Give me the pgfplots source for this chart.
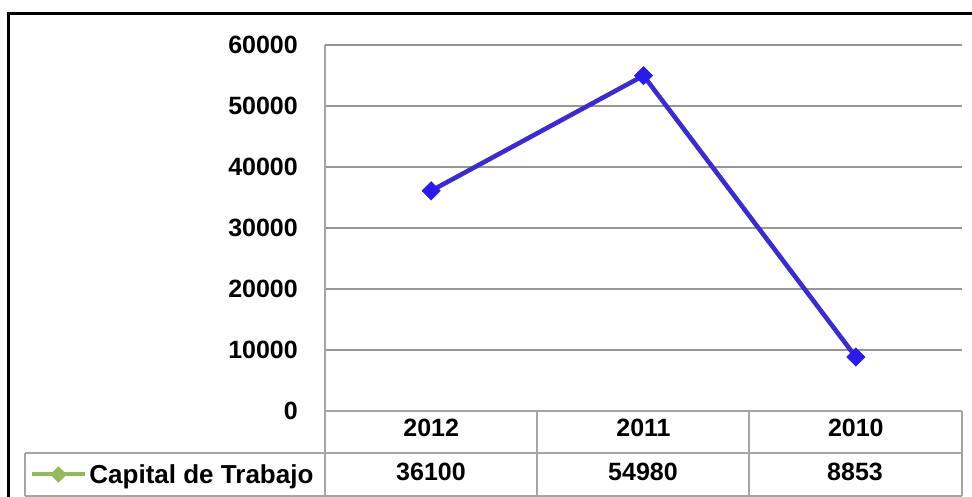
\documentclass[border=0pt]{standalone}
\usepackage{fontspec}
\setmainfont{Liberation Sans}
\usepackage{pgfplots}
\pgfplotsset{compat=1.18}
\definecolor{serblue}{RGB}{60,44,204}
\definecolor{mkblue}{RGB}{42,28,232}
\definecolor{keygreen}{RGB}{148,184,92}
\definecolor{gridgray}{RGB}{150,150,150}
\definecolor{tabgray}{RGB}{165,165,165}
\begin{document}
\begin{tikzpicture}
\useasboundingbox (0,0) rectangle (972bp,497bp);
\begin{axis}[
  at={(325bp,86bp)}, anchor=south west,
  scale only axis, width=637bp, height=366bp,
  xmin=-0.5, xmax=2.5, ymin=0, ymax=60000,
  xtick={0,1,2}, xticklabels={2012,2011,2010},
  ytick={0,10000,...,60000},
  axis x line=bottom, axis y line=left,
  axis line style={draw=tabgray, line width=1.3bp, -},
  ymajorgrids, grid style={draw=gridgray, line width=1.3bp},
  major tick length=0pt,
  scaled y ticks=false,
  /pgf/number format/assume math mode=true,
  yticklabel={\pgfmathprintnumber[fixed,1000 sep={}]{\tick}},
  tick label style={font=\fontsize{25bp}{30bp}\selectfont\bfseries, inner sep=0pt},
  yticklabel style={anchor=east, xshift=-27bp},
  xticklabel style={anchor=center, yshift=-17bp},
  clip=false,
  legend style={draw=none, fill=none, inner sep=0pt,
    at={(axis description cs:-0.4627,-0.1735)}, anchor=west,
    font=\fontsize{26bp}{30bp}\selectfont\bfseries,
    nodes={inner sep=2bp}},
  legend image code/.code={\draw[mark repeat=2,mark phase=2,#1] plot coordinates {(0bp,0bp) (26bp,0bp) (53bp,0bp)};},
]
\addlegendimage{color=keygreen, line width=4bp, mark=square*, mark size=5.5bp, mark options={rotate=45, fill=keygreen, draw=keygreen, line width=0.5bp}}
\addlegendentry{Capital de Trabajo}
\addplot[forget plot, color=serblue, line width=4.6bp, mark=square*, mark size=6.5bp,
  mark options={rotate=45, fill=mkblue, draw=mkblue, line width=0.5bp}]
  coordinates {(0,36100) (1,54980) (2,8853)};
\end{axis}
% table grid
\draw[tabgray, line width=1.3bp] (325bp,86bp) -- (962bp,86bp);
\draw[tabgray, line width=1.3bp] (25bp,44bp) -- (962bp,44bp);
\draw[tabgray, line width=1.3bp] (25bp,1bp) -- (962bp,1bp);
\draw[tabgray, line width=1.3bp] (25bp,1bp) -- (25bp,44bp);
\draw[tabgray, line width=1.3bp] (325bp,1bp) -- (325bp,86bp);
\draw[tabgray, line width=1.3bp] (537bp,1bp) -- (537bp,86bp);
\draw[tabgray, line width=1.3bp] (749bp,1bp) -- (749bp,86bp);
\draw[tabgray, line width=1.3bp] (962bp,1bp) -- (962bp,86bp);
% data row values
\begin{scope}[every node/.style={font=\fontsize{25bp}{30bp}\selectfont\bfseries, inner sep=0pt, anchor=center}]
\node at (431bp,25bp) {36100};
\node at (643bp,25bp) {54980};
\node at (855bp,25bp) {8853};
\end{scope}
% outer frame
\draw[black, line width=3bp] (8bp,0bp) -- (8bp,483bp) -- (972bp,483bp);
\end{tikzpicture}
\end{document}
